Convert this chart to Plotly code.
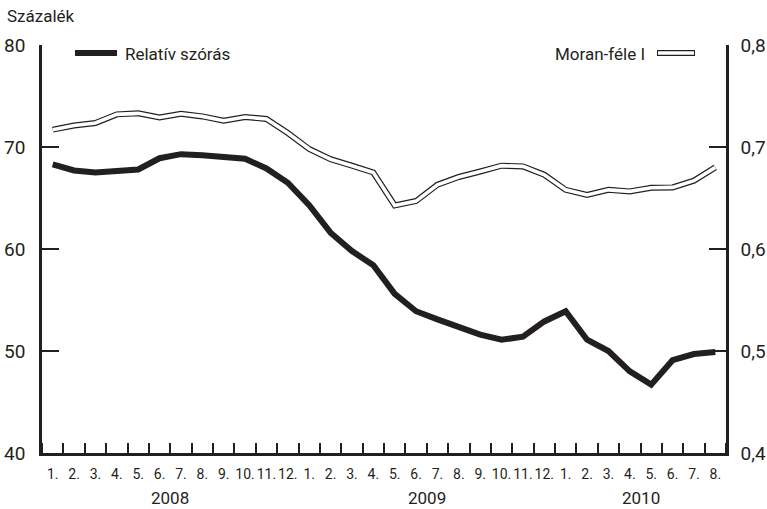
import plotly.graph_objects as go

months = ["1.", "2.", "3.", "4.", "5.", "6.", "7.", "8.", "9.", "10.", "11.", "12.",
          "1.", "2.", "3.", "4.", "5.", "6.", "7.", "8.", "9.", "10.", "11.", "12.",
          "1.", "2.", "3.", "4.", "5.", "6.", "7.", "8."]
years = ["2008", "2009", "2010"]
year_centers = [5.5, 17.5, 27.5]

relativ_szoras = [68.3, 67.7, 67.5, 67.6, 67.8, 68.9, 69.3, 69.2, 69.0, 68.85, 67.9, 66.5,
                  64.3, 61.6, 59.8, 58.4, 55.6, 53.9, 53.1, 52.3, 51.6, 51.1, 51.4, 52.9,
                  53.9, 51.1, 50.0, 48.0, 46.7, 49.1, 49.7, 49.9]
moran_i = [0.717, 0.721, 0.7235, 0.732, 0.733, 0.729, 0.7326, 0.730, 0.7258, 0.7294, 0.7275, 0.7137,
           0.698, 0.688, 0.6817, 0.675, 0.6427, 0.647, 0.663, 0.6706, 0.676, 0.6817, 0.681, 0.6728,
           0.658, 0.653, 0.658, 0.6565, 0.660, 0.6604, 0.667, 0.680]

x = list(range(len(months)))
INK = "#231f20"
FONT = "Roboto, Liberation Sans, sans-serif"

fig = go.Figure()
fig.add_trace(go.Scatter(x=x, y=relativ_szoras, mode="lines", name="Relatív szórás",
                         line=dict(color=INK, width=6), yaxis="y", showlegend=False))
fig.add_trace(go.Scatter(x=x, y=moran_i, mode="lines", name="Moran-féle I",
                         line=dict(color=INK, width=6), yaxis="y2", showlegend=False))
fig.add_trace(go.Scatter(x=x, y=moran_i, mode="lines", name="Moran-féle I",
                         line=dict(color="white", width=3.6), yaxis="y2", showlegend=False))

fig.update_layout(
    width=767, height=509,
    margin=dict(l=42, r=41, t=45, b=56),
    paper_bgcolor="white", plot_bgcolor="white",
    separators=", ",
    font=dict(family=FONT, color=INK, size=17),
    xaxis=dict(range=[-0.5, 31.5], tickvals=x, ticktext=months, ticks="", ticklen=0,
               tickangle=0, automargin=False,
               showgrid=False, zeroline=False, showline=True, linecolor=INK, linewidth=2.5,
               tickfont=dict(size=14), ticklabelstandoff=6,
               minor=dict(tickmode="linear", tick0=0.5, dtick=1, ticks="inside", ticklen=10,
                          tickwidth=2, tickcolor=INK, showgrid=False)),
    yaxis=dict(range=[40, 80], dtick=10, ticks="inside", ticklen=17, tickwidth=2, tickcolor=INK,
               automargin=False,
               showgrid=False, zeroline=False, showline=True, linecolor=INK, linewidth=2.5,
               tickfont=dict(size=19), ticklabelstandoff=10),
    yaxis2=dict(range=[0.4, 0.8], dtick=0.1, tickformat=".1f", overlaying="y", side="right",
                ticks="inside", ticklen=17, tickwidth=2, tickcolor=INK, automargin=False,
                showgrid=False, zeroline=False, showline=True, linecolor=INK, linewidth=2.5,
                tickfont=dict(size=19), ticklabelstandoff=8),
)

annotations = [
    dict(text="Százalék", xref="paper", yref="paper", x=-0.054, y=1.10, xanchor="left",
         yanchor="top", showarrow=False, font=dict(size=17)),
    dict(text="Relatív szórás", xref="paper", yref="paper", x=(123 - 42) / 684, y=(453 - 54) / 408,
         xanchor="left", yanchor="middle", showarrow=False, font=dict(size=17)),
    dict(text="Moran-féle I", xref="paper", yref="paper", x=(647 - 42) / 684, y=(453 - 54) / 408,
         xanchor="right", yanchor="middle", showarrow=False, font=dict(size=17)),
]
for yr, c in zip(years, year_centers):
    annotations.append(dict(text=yr, xref="x", yref="paper", x=c, y=(453 - 498) / 408,
                            xanchor="center", yanchor="middle", showarrow=False, font=dict(size=17)))
fig.update_layout(annotations=annotations)

py = (453 - 53) / 408
fig.update_layout(shapes=[
    dict(type="line", xref="paper", yref="paper", x0=(75 - 42) / 684, x1=(117 - 42) / 684,
         y0=py, y1=py, line=dict(color=INK, width=6)),
    dict(type="line", xref="paper", yref="paper", x0=(657 - 42) / 684, x1=(695 - 42) / 684,
         y0=py, y1=py, line=dict(color=INK, width=6)),
    dict(type="line", xref="paper", yref="paper", x0=(658 - 42) / 684, x1=(694 - 42) / 684,
         y0=py, y1=py, line=dict(color="white", width=3.6)),
])

fig.write_html("out.html", config={"displayModeBar": False},
               post_script="document.body.style.margin='0px';")
